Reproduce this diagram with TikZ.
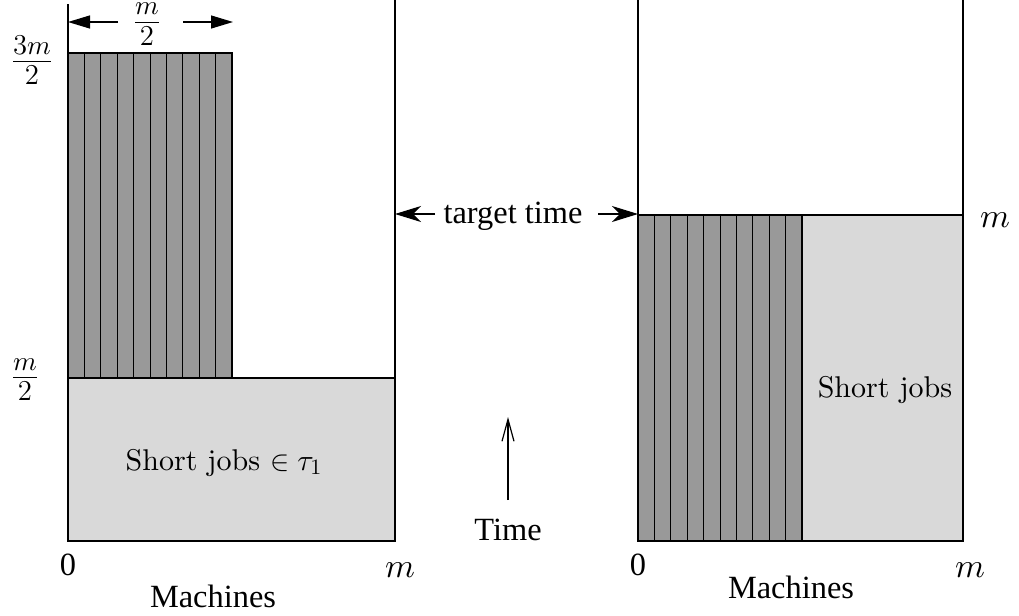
\documentclass[tikz,border=0pt]{standalone}
\usepackage{fontspec}
\setmainfont{lmroman10-regular.otf}
\newfontfamily\tnr{Liberation Serif}
% scale the 10pt design of the math italic to every size
\DeclareFontFamily{OML}{cmm}{\skewchar\font'177}
\DeclareFontShape{OML}{cmm}{m}{it}{<->cmmi10}{}
\usetikzlibrary{arrows.meta}
\definecolor{jobdark}{gray}{0.6}
\definecolor{joblight}{gray}{0.85}
% a fraction with numerator and denominator held close to the bar
\newcommand\levelfrac[2]{\displaystyle\frac{\raisebox{-2.4pt}{$#1$}}{\raisebox{2pt}{$#2$}}}
\begin{document}
\begin{tikzpicture}[x=0.5pt,y=-0.5pt,
  frameline/.style={line width=1pt},
  stripe/.style={line width=0.5pt},
  edge/.style={line width=0.7pt},
  dim/.style={line width=0.6pt},
  serif/.style={font=\tnr\fontsize{16.2}{19}\selectfont, inner sep=0pt, anchor=base},
  cmtext/.style={font=\fontsize{15}{18}\selectfont, inner sep=0pt, anchor=base},
  fraclabel/.style={font=\fontsize{13.5}{16}\selectfont, inner sep=0pt, anchor=base},
  mlabel/.style={font=\fontsize{17}{20}\selectfont, inner sep=0pt, anchor=base},
  widthtip/.style={-{Triangle[length=11pt,width=6.5pt]}},
  targettip/.style={-{Stealth[length=13pt,width=8pt,inset=4pt]}},
  timetip/.style={-{Straight Barb[length=11pt,width=6pt]}},
]
\useasboundingbox (0,0) rectangle (1019,616);

% ---------- left schedule ----------
\fill[joblight] (68,378) rectangle (395,541);
\fill[jobdark] (68,53) rectangle (232,378);
\foreach \i in {1,...,9}
  \draw[stripe] (68+16.4*\i,53) -- (68+16.4*\i,378);
\draw[edge] (68,53) -- (232,53) -- (232,378);
\draw[edge] (68,378) -- (395,378);
\draw[frameline] (68,4) -- (68,541) -- (395,541) -- (395,0);

% width of the long jobs
\node[fraclabel] (ftop) at (147,29.5) {$\levelfrac{m}{2}$};
\coordinate (wL) at (68,22);
\coordinate (wR) at (233,22);
\coordinate (wLs) at (118,22);
\coordinate (wRs) at (183,22);
\draw[dim,widthtip] (wLs) -- (wL);
\draw[dim,widthtip] (wRs) -- (wR);

\node[fraclabel] (f3m) at (32,68.75) {$\levelfrac{3m}{2}$};
\node[fraclabel] (fm) at (25,384.75) {$\levelfrac{m}{2}$};
\node[cmtext] (short1) at (224,470) {Short jobs $\in \tau_1$};
\node[serif] (zeroL) at (68,575) {0};
\node[mlabel] (mL) at (400,577) {$m$};
\node[serif] (machL) at (213,607) {Machines};

% ---------- middle ----------
\node[serif] (target) at (513,223) {target time};
\coordinate (tL) at (395,214);
\coordinate (tR) at (638,214);
\coordinate (tLs) at (435,214);
\coordinate (tRs) at (598,214);
\draw[dim,targettip] (tLs) -- (tL);
\draw[dim,targettip] (tRs) -- (tR);

\node[serif] (time) at (508,540) {Time};
\coordinate (timeS) at (508,500);
\coordinate (timeE) at (508,417);
\draw[dim,timetip] (timeS) -- (timeE);

% ---------- right schedule ----------
\fill[joblight] (802,215) rectangle (963,541);
\fill[jobdark] (638,215) rectangle (802,541);
\foreach \i in {1,...,9}
  \draw[stripe] (638+16.4*\i,215) -- (638+16.4*\i,541);
\draw[edge] (802,215) -- (802,541);
\draw[edge] (638,215) -- (963,215);
\draw[frameline] (638,0) -- (638,541) -- (963,541) -- (963,0);

\node[cmtext] (short2) at (885,397) {Short jobs};
\node[mlabel] (mTop) at (995,227) {$m$};
\node[serif] (zeroR) at (638,575) {0};
\node[mlabel] (mR) at (970,577) {$m$};
\node[serif] (machR) at (791,598) {Machines};
\end{tikzpicture}
\end{document}
